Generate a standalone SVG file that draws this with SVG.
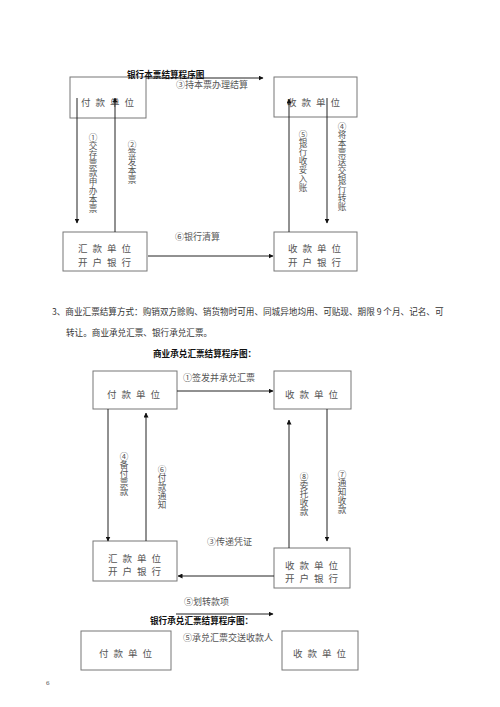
<svg xmlns="http://www.w3.org/2000/svg" width="500" height="707" viewBox="0 0 500 707">
<style>
text{font-family:"Noto Sans CJK SC","Liberation Serif",serif;fill:#555;}
.bx{fill:#fff;stroke:#777;stroke-width:1;}
.bt{font-size:9.5px;letter-spacing:5px;text-anchor:middle;}
.lb{font-size:9px;}
.vt{font-size:8.6px;writing-mode:vertical-rl;text-orientation:upright;letter-spacing:0.3px;}
.ttl{font-size:8.6px;font-weight:bold;fill:#111;}
.par{font-size:8.6px;fill:#333;}
.ar{stroke:#222;stroke-width:1;fill:none;marker-end:url(#ah);}
</style>
<defs>
<marker id="ah" viewBox="0 0 10 10" refX="9" refY="5" markerWidth="5" markerHeight="5" orient="auto" markerUnits="userSpaceOnUse"><path d="M0,0 L10,5 L0,10 z" fill="#111"/></marker>
</defs>
<rect width="500" height="707" fill="#fff"/>

<!-- Diagram 1 -->
<g id="d1-payer"><rect class="bx" x="70" y="77" width="76" height="41"/><text class="bt" x="110" y="106">付款单位</text></g>
<g id="d1-payee"><rect class="bx" x="274" y="77" width="83" height="40"/><text class="bt" x="316" y="106">收款单位</text></g>
<g id="d1-remitbank"><rect class="bx" x="63" y="232" width="84" height="39"/><text class="bt" x="107" y="252">汇款单位</text><text class="bt" x="107" y="266">开户银行</text></g>
<g id="d1-payeebank"><rect class="bx" x="274" y="232" width="83" height="39"/><text class="bt" x="317" y="252">收款单位</text><text class="bt" x="317" y="266">开户银行</text></g>
<g id="d1-connectors">
<line class="ar" x1="146" y1="78" x2="263" y2="78"/>
<line class="ar" x1="77" y1="98" x2="77" y2="223"/>
<line class="ar" x1="115" y1="232" x2="115" y2="98"/>
<line class="ar" x1="289" y1="232" x2="289" y2="99"/>
<line class="ar" x1="327" y1="98" x2="327" y2="223"/>
<line class="ar" x1="148" y1="256" x2="273" y2="256"/>
</g>
<text class="ttl" x="127" y="78">银行本票结算程序图</text>
<text class="lb" x="176" y="88">③持本票办理结算</text>
<text class="vt" x="93" y="133">①交存票款申办本票</text>
<text class="vt" x="132" y="140">②签发本票</text>
<text class="vt" x="303" y="130">⑤银行收妥入账</text>
<text class="vt" x="342" y="122">④将本票送交银行转账</text>
<text class="lb" x="175" y="240">⑥银行清算</text>

<!-- paragraph -->
<text class="par" x="52" y="315">3、商业汇票结算方式：购销双方赊购、销货物时可用、同城异地均用、可贴现、期限 9 个月、记名、可</text>
<text class="par" x="66" y="336">转让。商业承兑汇票、银行承兑汇票。</text>

<!-- Diagram 2 -->
<text class="ttl" x="153" y="357">商业承兑汇票结算程序图：</text>
<g id="d2-payer"><rect class="bx" x="93" y="371" width="84" height="38"/><text class="bt" x="136" y="398">付款单位</text></g>
<g id="d2-payee"><rect class="bx" x="274" y="371" width="77" height="38"/><text class="bt" x="314" y="398">收款单位</text></g>
<g id="d2-remitbank"><rect class="bx" x="93" y="541" width="84" height="40"/><text class="bt" x="137" y="562">汇款单位</text><text class="bt" x="137" y="575">开户银行</text></g>
<g id="d2-payeebank"><rect class="bx" x="274" y="548" width="76" height="40"/><text class="bt" x="314" y="569">收款单位</text><text class="bt" x="314" y="582">开户银行</text></g>
<g id="d2-connectors">
<line class="ar" x1="177" y1="391" x2="273" y2="391"/>
<line class="ar" x1="108" y1="409" x2="108" y2="541"/>
<line class="ar" x1="146" y1="541" x2="146" y2="413"/>
<line class="ar" x1="289" y1="548" x2="289" y2="420"/>
<line class="ar" x1="327" y1="409" x2="327" y2="541"/>
<line class="ar" x1="274" y1="576" x2="178" y2="576"/>
<line class="ar" x1="176" y1="614" x2="273" y2="614"/>
</g>
<text class="lb" x="183" y="381">①签发并承兑汇票</text>
<text class="vt" x="124" y="452">④备付票款</text>
<text class="vt" x="162" y="465">⑥付款通知</text>
<text class="vt" x="304" y="472">⑧委托收款</text>
<text class="vt" x="342" y="470">⑦通知收款</text>
<text class="lb" x="207" y="545">③传递凭证</text>
<text class="lb" x="184" y="605">⑤划转款项</text>

<!-- Diagram 3 -->
<text class="ttl" x="150" y="624">银行承兑汇票结算程序图：</text>
<g id="d3-payer"><rect class="bx" x="81" y="631" width="90" height="39"/><text class="bt" x="128" y="657">付款单位</text></g>
<g id="d3-payee"><rect class="bx" x="282" y="631" width="76" height="39"/><text class="bt" x="322" y="657">收款单位</text></g>
<text class="lb" x="183" y="641">⑤承兑汇票交送收款人</text>

<text style="font-size:7px;fill:#555;font-family:'Liberation Serif',serif" x="46" y="685">6</text>
</svg>
